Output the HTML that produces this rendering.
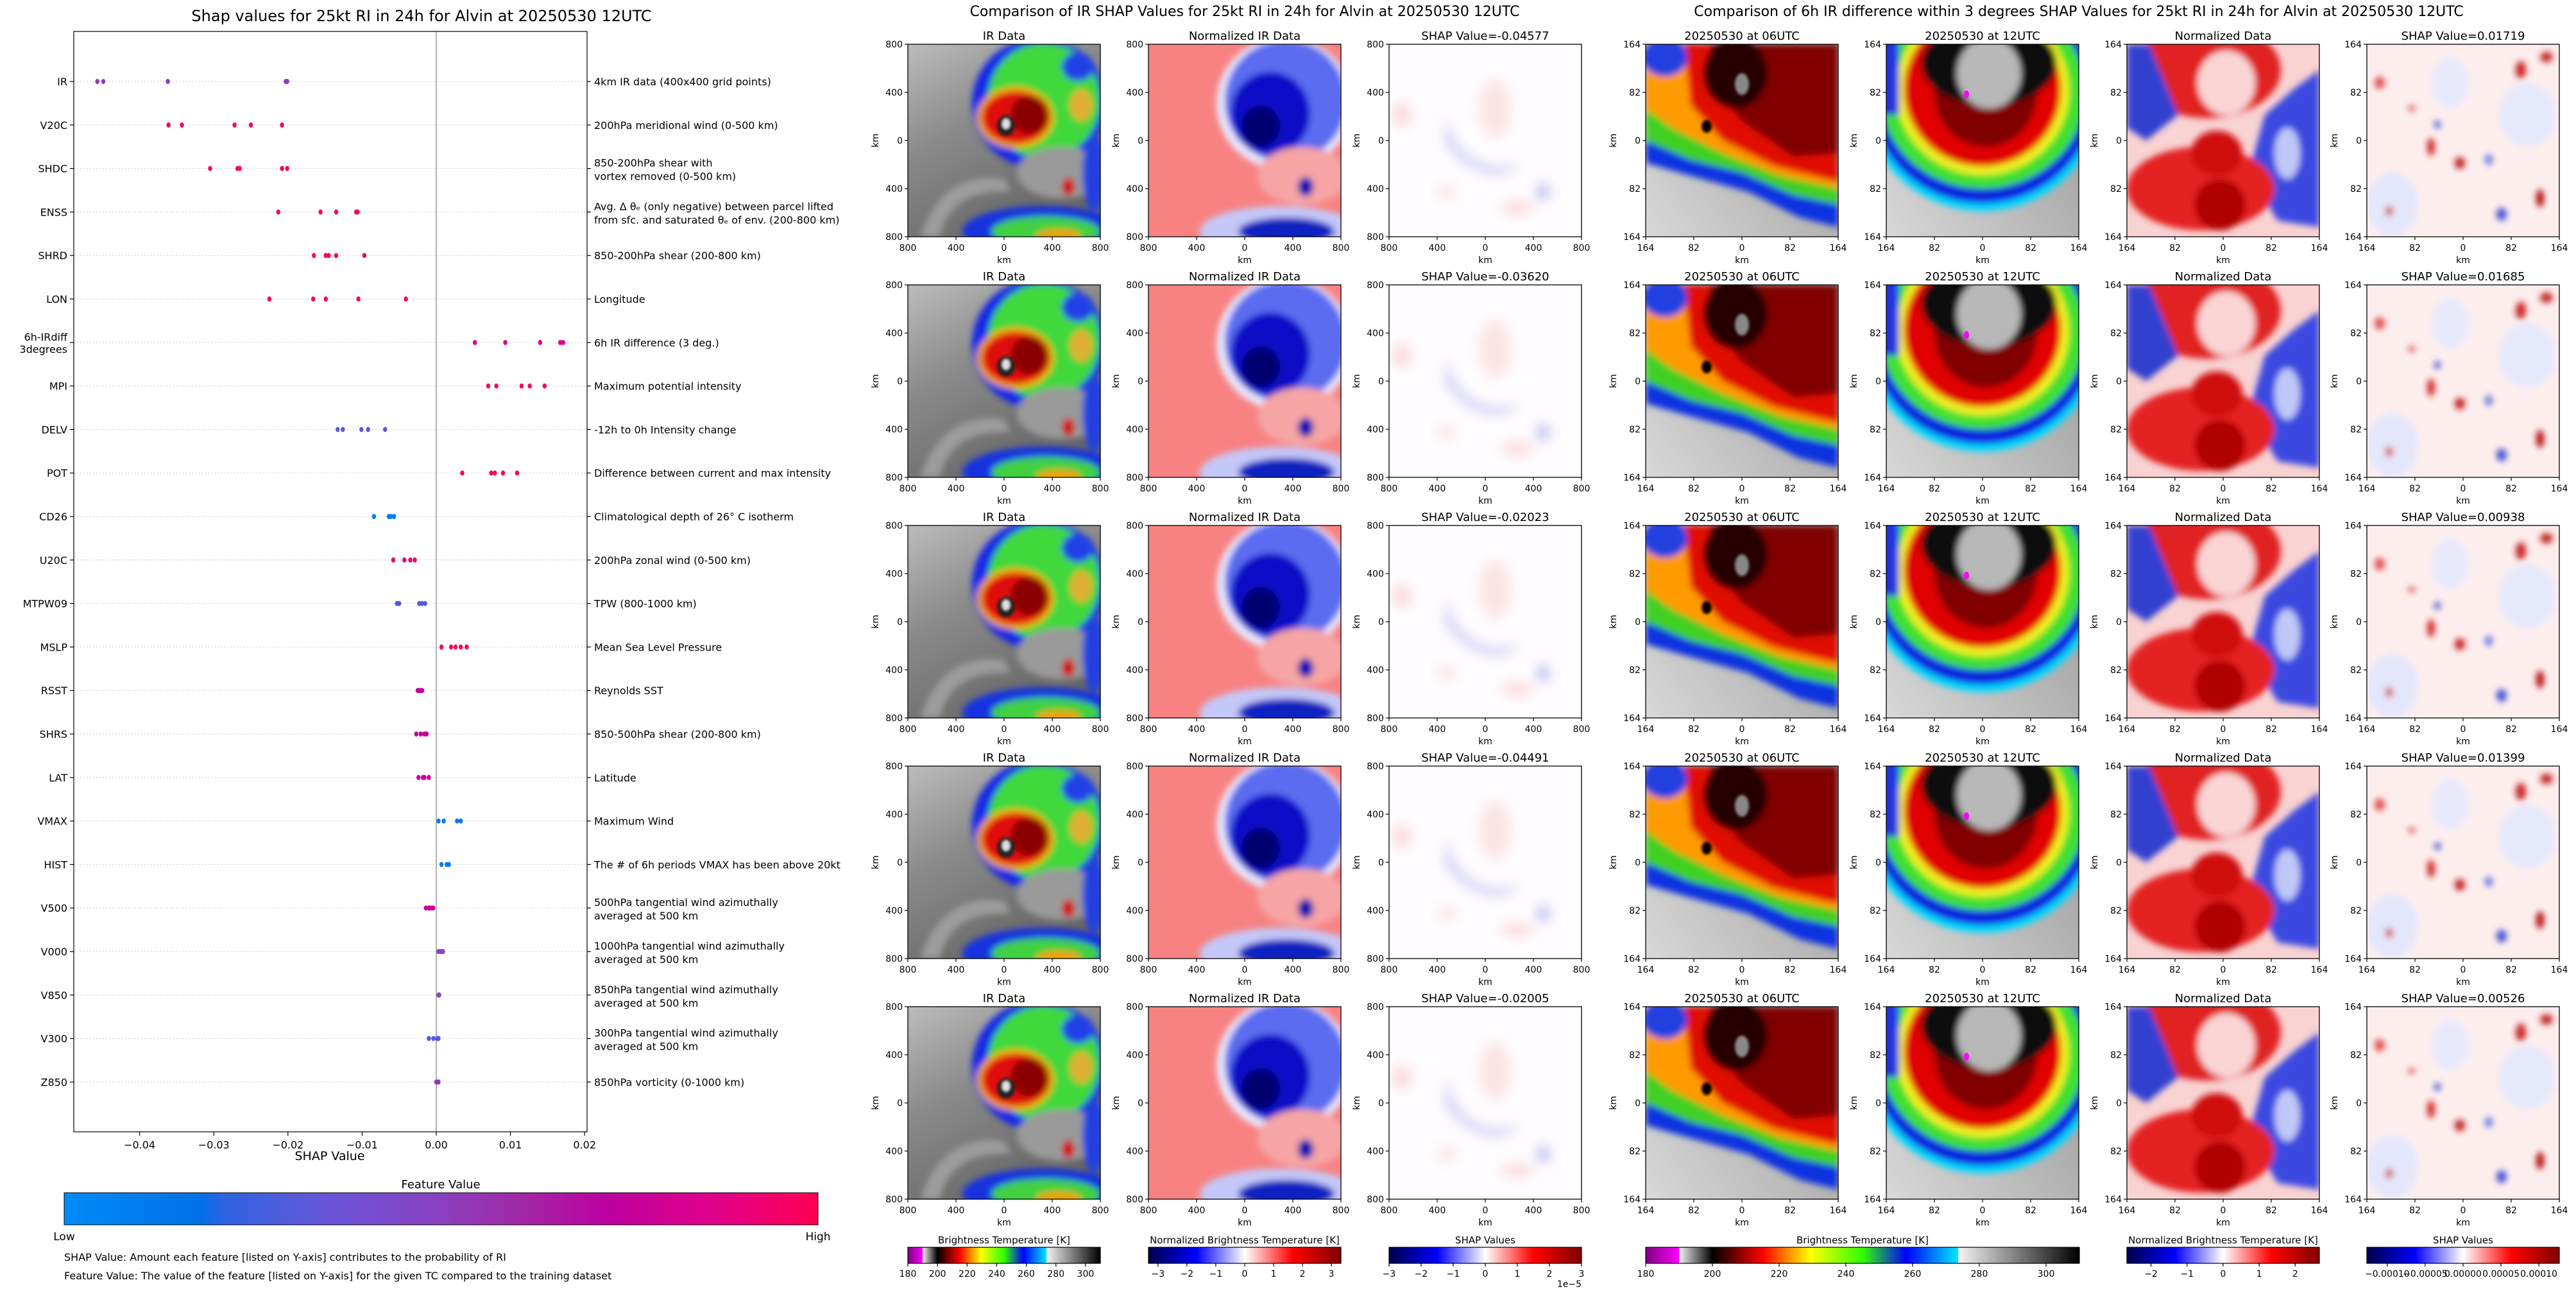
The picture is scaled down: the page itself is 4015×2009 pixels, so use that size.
<!DOCTYPE html>
<html><head><meta charset="utf-8">
<style>
html,body{margin:0;padding:0;background:#fff;}
svg{display:block;font-family:"DejaVu Sans","Liberation Sans",sans-serif;}
</style></head>
<body>
<svg id="fig" width="4015" height="2009" viewBox="0 0 4015 2009" xmlns="http://www.w3.org/2000/svg">
<defs>
  <filter id="b2" x="-20%" y="-20%" width="140%" height="140%"><feGaussianBlur stdDeviation="2"/></filter>
  <filter id="b5" x="-20%" y="-20%" width="140%" height="140%"><feGaussianBlur stdDeviation="5"/></filter>
  <filter id="b9" x="-30%" y="-30%" width="160%" height="160%"><feGaussianBlur stdDeviation="9"/></filter>
  <linearGradient id="gIrBg" x1="0" y1="0" x2="0.55" y2="1">
    <stop offset="0" stop-color="#bcbcbc"/><stop offset="0.45" stop-color="#8a8a8a"/><stop offset="1" stop-color="#666"/>
  </linearGradient>
  <linearGradient id="gGreyR" x1="0" y1="1" x2="1" y2="0.3">
    <stop offset="0" stop-color="#d8d8d8"/><stop offset="1" stop-color="#a0a0a0"/>
  </linearGradient>
  <linearGradient id="gFeat" x1="0" y1="0" x2="1" y2="0">
    <stop offset="0" stop-color="#008bfa"/><stop offset="0.18" stop-color="#0070e8"/><stop offset="0.21" stop-color="#2c64e2"/>
    <stop offset="0.35" stop-color="#6a55d8"/><stop offset="0.5" stop-color="#8a40c0"/><stop offset="0.6" stop-color="#a02aa8"/>
    <stop offset="0.72" stop-color="#bd00a0"/><stop offset="0.86" stop-color="#e0008a"/><stop offset="1" stop-color="#ff0052"/>
  </linearGradient>
  <linearGradient id="gBT" x1="0" y1="0" x2="1" y2="0">
    <stop offset="0" stop-color="#800080"/><stop offset="0.0769" stop-color="#ff00ff"/><stop offset="0.077" stop-color="#f4f4f4"/>
    <stop offset="0.1538" stop-color="#000"/><stop offset="0.27" stop-color="#ff0000"/><stop offset="0.33" stop-color="#ff9000"/>
    <stop offset="0.38" stop-color="#ffff00"/><stop offset="0.5" stop-color="#30ff00"/><stop offset="0.6" stop-color="#0000ff"/>
    <stop offset="0.72" stop-color="#00e8ff"/><stop offset="0.721" stop-color="#f4f4f4"/><stop offset="1" stop-color="#000"/>
  </linearGradient>
  <linearGradient id="gSeis" x1="0" y1="0" x2="1" y2="0">
    <stop offset="0" stop-color="#00004c"/><stop offset="0.25" stop-color="#0000ff"/><stop offset="0.5" stop-color="#ffffff"/>
    <stop offset="0.75" stop-color="#ff0000"/><stop offset="1" stop-color="#800000"/>
  </linearGradient>

  <symbol id="p-ir" viewBox="0 0 300 300">
    <rect width="300" height="300" fill="url(#gIrBg)"/>
    <g filter="url(#b5)">
      <path d="M20,300 C40,230 90,200 150,210 L160,230 C100,225 60,250 50,300Z" fill="#9c9c9c"/>
      <ellipse cx="205" cy="92" rx="105" ry="102" fill="#1428e8"/>
      <ellipse cx="212" cy="88" rx="88" ry="90" fill="#3fd83a"/>
      <ellipse cx="265" cy="35" rx="25" ry="22" fill="#2040e8"/>
      <ellipse cx="270" cy="95" rx="18" ry="25" fill="#e0b030"/>
      <ellipse cx="168" cy="114" rx="60" ry="48" fill="#f0b000"/>
      <ellipse cx="168" cy="114" rx="53" ry="41" fill="#e01010"/>
      <ellipse cx="190" cy="110" rx="30" ry="30" fill="#8a0000"/>
      <ellipse cx="240" cy="200" rx="70" ry="40" fill="#9a9a9a"/>
      <ellipse cx="290" cy="200" rx="18" ry="60" fill="#2040e0"/>
      <ellipse cx="210" cy="292" rx="125" ry="40" fill="#1830e0"/>
      <ellipse cx="215" cy="292" rx="85" ry="24" fill="#40d040"/>
      <ellipse cx="235" cy="298" rx="35" ry="10" fill="#f0a000"/>
      <ellipse cx="250" cy="222" rx="10" ry="14" fill="#d00000"/>
    </g>
    <ellipse cx="153" cy="127" rx="14" ry="16" fill="#202020" filter="url(#b2)"/>
    <ellipse cx="153" cy="124" rx="7" ry="9" fill="#e0e0e0" filter="url(#b2)"/>
  </symbol>

  <symbol id="p-norm" viewBox="0 0 300 300">
    <rect width="300" height="300" fill="#f88282"/>
    <g filter="url(#b5)">
      <ellipse cx="212" cy="92" rx="106" ry="104" fill="#e8e8ff"/>
      <ellipse cx="214" cy="88" rx="95" ry="95" fill="#5c6cf0"/>
      <ellipse cx="190" cy="108" rx="62" ry="65" fill="#0a10c8"/>
      <ellipse cx="175" cy="128" rx="30" ry="32" fill="#000070"/>
      <ellipse cx="240" cy="205" rx="70" ry="45" fill="#f6a4a4"/>
      <ellipse cx="245" cy="222" rx="12" ry="15" fill="#0010b0"/>
      <ellipse cx="205" cy="292" rx="125" ry="40" fill="#c4c8f8"/>
      <ellipse cx="215" cy="292" rx="75" ry="22" fill="#1020c0"/>
    </g>
  </symbol>

  <symbol id="p-shap" viewBox="0 0 300 300">
    <rect width="300" height="300" fill="#fefcfe"/>
    <g filter="url(#b9)">
      <path d="M90,110 C100,180 160,200 200,185 C190,215 120,210 85,150Z" fill="#d4d4f6"/>
      <ellipse cx="165" cy="100" rx="25" ry="45" fill="#fbe4e4"/>
      <ellipse cx="20" cy="110" rx="15" ry="18" fill="#fadada"/>
      <ellipse cx="240" cy="230" rx="10" ry="14" fill="#c0c0f0"/>
      <ellipse cx="200" cy="255" rx="25" ry="10" fill="#fadada"/>
      <ellipse cx="90" cy="230" rx="15" ry="12" fill="#fbe8e8"/>
    </g>
  </symbol>

  <symbol id="p-r06" viewBox="0 0 300 300">
    <rect width="300" height="300" fill="url(#gGreyR)"/>
    <g filter="url(#b5)">
      <path d="M0,0 L300,0 L300,285 L240,270 L160,230 L70,205 L0,185Z" fill="#1030e0"/>
      <path d="M0,0 L300,0 L300,250 L230,235 L150,200 L70,180 L0,150Z" fill="#40d020"/>
      <path d="M0,0 L300,0 L300,225 L210,205 L120,170 L40,130 L0,100Z" fill="#ff9a00"/>
      <path d="M60,0 L300,0 L300,215 L200,190 L120,150 L70,95Z" fill="#e01000"/>
      <path d="M100,0 L300,0 L300,170 L230,175 L150,120 L100,60Z" fill="#800000"/>
      <ellipse cx="140" cy="45" rx="50" ry="55" fill="#280000"/>
      <ellipse cx="30" cy="20" rx="35" ry="30" fill="#2040e0"/>
    </g>
    <ellipse cx="150" cy="62" rx="11" ry="17" fill="#888" filter="url(#b2)"/>
    <ellipse cx="95" cy="128" rx="8" ry="10" fill="#100000" filter="url(#b2)"/>
  </symbol>

  <symbol id="p-r12" viewBox="0 0 300 300">
    <rect width="300" height="300" fill="url(#gGreyR)"/>
    <g filter="url(#b5)">
      <ellipse cx="150" cy="80" rx="185" ry="180" fill="#00d8ff"/>
      <ellipse cx="150" cy="80" rx="175" ry="168" fill="#1020e0"/>
      <ellipse cx="150" cy="75" rx="160" ry="150" fill="#40e030"/>
      <ellipse cx="150" cy="72" rx="135" ry="132" fill="#f0f020"/>
      <ellipse cx="150" cy="70" rx="122" ry="120" fill="#e00000"/>
      <ellipse cx="155" cy="75" rx="80" ry="85" fill="#800000"/>
      <ellipse cx="160" cy="30" rx="105" ry="65" fill="#101010"/>
      <ellipse cx="160" cy="45" rx="50" ry="55" fill="#b8b8b8"/>
      <rect x="-10" y="-10" width="30" height="120" fill="#2030e0"/>
    </g>
    <ellipse cx="125" cy="78" rx="4" ry="6" fill="#ff00ff"/>
  </symbol>

  <symbol id="p-rn" viewBox="0 0 300 300">
    <rect width="300" height="300" fill="#f9d2d2"/>
    <g filter="url(#b5)">
      <ellipse cx="125" cy="40" rx="115" ry="75" fill="#e02020"/>
      <ellipse cx="155" cy="60" rx="45" ry="50" fill="#fbd4d4"/>
      <path d="M0,0 L35,0 L80,110 L30,150 L0,130Z" fill="#3040d0"/>
      <path d="M300,40 L300,285 L235,275 L190,200 L215,110 L260,70Z" fill="#3a48e0"/>
      <ellipse cx="250" cy="170" rx="20" ry="40" fill="#c0c8f8"/>
      <ellipse cx="115" cy="225" rx="115" ry="65" fill="#e42424"/>
      <ellipse cx="140" cy="170" rx="40" ry="35" fill="#d01010"/>
      <ellipse cx="145" cy="250" rx="40" ry="40" fill="#b00000"/>
    </g>
  </symbol>

  <symbol id="p-rs" viewBox="0 0 300 300">
    <rect width="300" height="300" fill="#fdeeee"/>
    <g filter="url(#b5)">
      <ellipse cx="40" cy="250" rx="40" ry="50" fill="#e4e6fb"/>
      <ellipse cx="130" cy="60" rx="30" ry="40" fill="#e8eafc"/>
      <ellipse cx="250" cy="110" rx="45" ry="50" fill="#e6e8fb"/>
      <ellipse cx="20" cy="60" rx="8" ry="10" fill="#e05050"/>
      <ellipse cx="240" cy="40" rx="8" ry="14" fill="#c82020"/>
      <ellipse cx="280" cy="20" rx="10" ry="8" fill="#c02020"/>
      <ellipse cx="100" cy="160" rx="6" ry="14" fill="#d02020"/>
      <ellipse cx="145" cy="185" rx="8" ry="9" fill="#c01818"/>
      <ellipse cx="270" cy="240" rx="6" ry="14" fill="#b00000"/>
      <ellipse cx="210" cy="265" rx="8" ry="10" fill="#4050d0"/>
      <ellipse cx="110" cy="125" rx="5" ry="6" fill="#4050d0"/>
      <ellipse cx="70" cy="100" rx="6" ry="5" fill="#e06060"/>
      <ellipse cx="35" cy="260" rx="6" ry="8" fill="#d04040"/>
      <ellipse cx="190" cy="180" rx="6" ry="8" fill="#6070e0"/>
    </g>
  </symbol>
</defs>
<g id="left-panel"></g>
<g id="mid-panel"></g>
<g id="right-panel"></g>
</svg>
<script>
// ---------- data ----------
const features = ['IR','V20C','SHDC','ENSS','SHRD','LON','6h-IRdiff|3degrees','MPI','DELV','POT','CD26','U20C','MTPW09','MSLP','RSST','SHRS','LAT','VMAX','HIST','V500','V000','V850','V300','Z850'];
const descriptions = [
 ['4km IR data (400x400 grid points)'],
 ['200hPa meridional wind (0-500 km)'],
 ['850-200hPa shear with','vortex removed (0-500 km)'],
 ['Avg. \u0394 \u03b8\u2091 (only negative) between parcel lifted','from sfc. and saturated \u03b8\u2091 of env. (200-800 km)'],
 ['850-200hPa shear (200-800 km)'],
 ['Longitude'],
 ['6h IR difference (3 deg.)'],
 ['Maximum potential intensity'],
 ['-12h to 0h Intensity change'],
 ['Difference between current and max intensity'],
 ['Climatological depth of 26\u00b0 C isotherm'],
 ['200hPa zonal wind (0-500 km)'],
 ['TPW (800-1000 km)'],
 ['Mean Sea Level Pressure'],
 ['Reynolds SST'],
 ['850-500hPa shear (200-800 km)'],
 ['Latitude'],
 ['Maximum Wind'],
 ['The # of 6h periods VMAX has been above 20kt'],
 ['500hPa tangential wind azimuthally','averaged at 500 km'],
 ['1000hPa tangential wind azimuthally','averaged at 500 km'],
 ['850hPa tangential wind azimuthally','averaged at 500 km'],
 ['300hPa tangential wind azimuthally','averaged at 500 km'],
 ['850hPa vorticity (0-1000 km)']
];
const shapVals = [
 [-0.0457,-0.0449,-0.0362,-0.0203,-0.0201],
 [-0.0361,-0.0343,-0.0272,-0.0250,-0.0208],
 [-0.0305,-0.0268,-0.0265,-0.0208,-0.0201],
 [-0.0213,-0.0156,-0.0135,-0.0108,-0.0106],
 [-0.0165,-0.0149,-0.0145,-0.0135,-0.0097],
 [-0.0225,-0.0166,-0.0149,-0.0105,-0.0041],
 [0.0052,0.0093,0.0140,0.0167,0.0171],
 [0.0070,0.0081,0.0115,0.0126,0.0146],
 [-0.0133,-0.0126,-0.0101,-0.0092,-0.0069],
 [0.0035,0.0074,0.0079,0.0090,0.0109],
 [-0.0084,-0.0064,-0.0061,-0.0057],
 [-0.0058,-0.0043,-0.0035,-0.0029],
 [-0.0053,-0.0050,-0.0023,-0.0019,-0.0015],
 [0.0007,0.0020,0.0026,0.0033,0.0041],
 [-0.0025,-0.0023,-0.0021,-0.0019],
 [-0.0027,-0.0021,-0.0016,-0.0013],
 [-0.0024,-0.0018,-0.0016,-0.0010],
 [0.0003,0.0010,0.0028,0.0033],
 [0.0007,0.0014,0.0017],
 [-0.0014,-0.0010,-0.0007,-0.0004],
 [0.0003,0.0006,0.0009],
 [0.0003,0.0004],
 [-0.0010,-0.0004,0.0001,0.0003],
 [0.0000,0.0003]
];
const featureValues = [0.52,0.97,0.97,0.97,0.97,0.97,0.86,0.97,0.32,0.97,0.1,0.92,0.3,0.97,0.76,0.76,0.78,0.1,0.1,0.76,0.5,0.45,0.3,0.55];
const xTicks = [-0.04,-0.03,-0.02,-0.01,0.00,0.01,0.02];
const xTickLabels = ['\u22120.04','\u22120.03','\u22120.02','\u22120.01','0.00','0.01','0.02'];
const midShapTitles = ['SHAP Value=-0.04577','SHAP Value=-0.03620','SHAP Value=-0.02023','SHAP Value=-0.04491','SHAP Value=-0.02005'];
const rightShapTitles = ['SHAP Value=0.01719','SHAP Value=0.01685','SHAP Value=0.00938','SHAP Value=0.01399','SHAP Value=0.00526'];
const midTickLabels = ['800','400','0','400','800'];
const rightTickLabels = ['164','82','0','82','164'];
const btTicks = [180,200,220,240,260,280,300];
const midNormTicks = [-3,-2,-1,0,1,2,3];
const midShapTicks = [-3,-2,-1,0,1,2,3];
const rightNormTicks = [-2,-1,0,1,2];
const rightShapTicks = [-0.0001,-0.00005,0,0.00005,0.0001];
const rightShapTickLabels = ['\u22120.00010','\u22120.00005','0.00000','0.00005','0.00010'];

// ---------- helpers ----------
const NS = 'http://www.w3.org/2000/svg';
function mk(parent, tag, attrs, text) {
  const e = document.createElementNS(NS, tag);
  for (const k in attrs) e.setAttribute(k, attrs[k]);
  if (text !== undefined) e.textContent = text;
  parent.appendChild(e);
  return e;
}
function fmtMinus(v){ return (v<0?'\u2212':'') + Math.abs(v); }
const cmapStops = [[0,[0,139,250]],[0.18,[0,112,232]],[0.21,[44,100,226]],[0.35,[106,85,216]],[0.5,[138,64,192]],[0.6,[160,42,168]],[0.72,[189,0,160]],[0.86,[224,0,138]],[1,[255,0,82]]];
function cmap(t){
  for (let i=1;i<cmapStops.length;i++){
    if (t<=cmapStops[i][0]){
      const a=cmapStops[i-1], b=cmapStops[i], f=(t-a[0])/(b[0]-a[0]);
      const c=a[1].map((v,j)=>Math.round(v+(b[1][j]-v)*f));
      return 'rgb('+c.join(',')+')';
    }
  }
  return 'rgb(255,0,82)';
}

// ---------- left SHAP summary ----------
const L = document.getElementById('left-panel');
const AX = {l:115, r:915, t:49, b:1764};
const xS = v => 680 + v*11560;
const yS = i => 127 + i*67.8;

const ltitle = mk(L,'text',{x:657,y:33,'font-size':24,'text-anchor':'middle'},'Shap values for 25kt RI in 24h for Alvin at 20250530 12UTC');



features.forEach((f,i)=>{
  const y = yS(i);
  const grid = mk(L,'line',{x1:AX.l,x2:AX.r,y1:y,y2:y,stroke:'#ccc','stroke-width':1,'stroke-dasharray':'2,3'});
  
  
  mk(L,'line',{x1:AX.l-6,x2:AX.l,y1:y,y2:y,stroke:'#000','stroke-width':1.2});
  mk(L,'line',{x1:AX.r,x2:AX.r+6,y1:y,y2:y,stroke:'#000','stroke-width':1.2});
  const parts = f.split('|');
  parts.forEach((p,k)=>{
    const off = parts.length===1 ? 6 : (k===0 ? -3 : 16);
    const t = mk(L,'text',{x:AX.l-10,y:y+off,'font-size':16,'text-anchor':'end'},p);
    
    
  });
  const d = descriptions[i];
  d.forEach((p,k)=>{
    const off = d.length===1 ? 6 : (k===0 ? -3 : 18);
    const t = mk(L,'text',{x:AX.r+11,y:y+off,'font-size':16},p);
    
    
  });
});

const zl = mk(L,'line',{x1:xS(0),x2:xS(0),y1:AX.t,y2:AX.b,stroke:'#999','stroke-width':1.5});



shapVals.forEach((vals,i)=>{
  vals.forEach(v=>{
    const c = mk(L,'ellipse',{cx:xS(v),cy:yS(i),rx:3.2,ry:4,fill:cmap(featureValues[i])});
    
    
  });
});

const frame = mk(L,'rect',{x:AX.l,y:AX.t,width:AX.r-AX.l,height:AX.b-AX.t,fill:'none',stroke:'#000','stroke-width':1.2});



xTicks.forEach((v,k)=>{
  const x = xS(v);
  mk(L,'line',{x1:x,x2:x,y1:AX.b,y2:AX.b+6,stroke:'#000','stroke-width':1.2});
  const t = mk(L,'text',{x:x,y:AX.b+26,'font-size':16,'text-anchor':'middle'},xTickLabels[k]);
  
  
});
const xl = mk(L,'text',{x:514,y:1808,'font-size':19,'text-anchor':'middle'},'SHAP Value');



const ft = mk(L,'text',{x:687,y:1852,'font-size':18,'text-anchor':'middle'},'Feature Value');


const fcb = mk(L,'rect',{x:100,y:1859,width:1175,height:50,fill:'url(#gFeat)',stroke:'#000','stroke-width':1});


const lo = mk(L,'text',{x:100,y:1933,'font-size':17,'text-anchor':'middle'},'Low');


const hi = mk(L,'text',{x:1275,y:1933,'font-size':17,'text-anchor':'middle'},'High');


const n1 = mk(L,'text',{x:100,y:1965,'font-size':16},'SHAP Value: Amount each feature [listed on Y-axis] contributes to the probability of RI');


const n2 = mk(L,'text',{x:100,y:1994,'font-size':16},'Feature Value: The value of the feature [listed on Y-axis] for the given TC compared to the training dataset');



// ---------- image panels ----------
const rowTops = [69,444,819,1194,1569];
function panel(parent, x, y, sym, title, ticks, name){
  const g = mk(parent,'g',{});
  
  
  mk(g,'use',{href:'#'+sym,x:x,y:y,width:300,height:300});
  mk(g,'rect',{x:x,y:y,width:300,height:300,fill:'none',stroke:'#000','stroke-width':1.3});
  const tt = mk(g,'text',{x:x+150,y:y-7,'font-size':18,'text-anchor':'middle'},title);
  
  
  ticks.forEach((lab,k)=>{
    const p = k*75;
    mk(g,'line',{x1:x+p,x2:x+p,y1:y+300,y2:y+305,stroke:'#000','stroke-width':1.2});
    mk(g,'text',{x:x+p,y:y+322,'font-size':14,'text-anchor':'middle'},lab);
    mk(g,'line',{x1:x-5,x2:x,y1:y+p,y2:y+p,stroke:'#000','stroke-width':1.2});
    mk(g,'text',{x:x-8,y:y+p+5,'font-size':14,'text-anchor':'end'},lab);
  });
  mk(g,'text',{x:x+150,y:y+341,'font-size':14,'text-anchor':'middle'},'km');
  mk(g,'text',{x:0,y:0,'font-size':14,'text-anchor':'middle',transform:'translate('+(x-46)+','+(y+150)+') rotate(-90)'},'km');
}
const M = document.getElementById('mid-panel');
const mt = mk(M,'text',{x:1940,y:25,'font-size':22,'text-anchor':'middle'},'Comparison of IR SHAP Values for 25kt RI in 24h for Alvin at 20250530 12UTC');


rowTops.forEach((y,r)=>{
  panel(M,1415,y,'p-ir','IR Data',midTickLabels,'ir-data-panel');
  panel(M,1790,y,'p-norm','Normalized IR Data',midTickLabels,'normalized-ir-panel');
  panel(M,2165,y,'p-shap',midShapTitles[r],midTickLabels,'ir-shap-panel');
});
const R = document.getElementById('right-panel');
const rt = mk(R,'text',{x:3240,y:25,'font-size':22,'text-anchor':'middle'},'Comparison of 6h IR difference within 3 degrees SHAP Values for 25kt RI in 24h for Alvin at 20250530 12UTC');


rowTops.forEach((y,r)=>{
  panel(R,2565,y,'p-r06','20250530 at 06UTC',rightTickLabels,'ir-06utc-panel');
  panel(R,2940,y,'p-r12','20250530 at 12UTC',rightTickLabels,'ir-12utc-panel');
  panel(R,3315,y,'p-rn','Normalized Data',rightTickLabels,'normalized-diff-panel');
  panel(R,3689,y,'p-rs',rightShapTitles[r],rightTickLabels,'diff-shap-panel');
});

// ---------- colorbars ----------
function colorbar(parent,x,w,fill,title,ticks,labels,vmin,vmax,name){
  const g = mk(parent,'g',{});
  
  
  mk(g,'text',{x:x+w/2,y:1938,'font-size':15,'text-anchor':'middle'},title);
  mk(g,'rect',{x:x,y:1944,width:w,height:25,fill:fill,stroke:'#000','stroke-width':1.2});
  ticks.forEach((v,k)=>{
    const px = x + (v-vmin)/(vmax-vmin)*w;
    mk(g,'line',{x1:px,x2:px,y1:1969,y2:1974,stroke:'#000','stroke-width':1.2});
    mk(g,'text',{x:px,y:1990,'font-size':14,'text-anchor':'middle'},labels[k]);
  });
}
colorbar(M,1415,300,'url(#gBT)','Brightness Temperature [K]',btTicks,btTicks.map(String),180,310,'bt-colorbar');
colorbar(M,1790,300,'url(#gSeis)','Normalized Brightness Temperature [K]',midNormTicks,midNormTicks.map(fmtMinus),-3.33,3.33,'norm-colorbar');
colorbar(M,2165,300,'url(#gSeis)','SHAP Values',midShapTicks,midShapTicks.map(fmtMinus),-3,3,'shap-colorbar');
const ex = mk(M,'text',{x:2465,y:2006,'font-size':14,'text-anchor':'end'},'1e\u22125');


colorbar(R,2565,676,'url(#gBT)','Brightness Temperature [K]',btTicks,btTicks.map(String),180,310,'diff-bt-colorbar');
colorbar(R,3315,300,'url(#gSeis)','Normalized Brightness Temperature [K]',rightNormTicks,rightNormTicks.map(fmtMinus),-2.67,2.67,'diff-norm-colorbar');
colorbar(R,3689,300,'url(#gSeis)','SHAP Values',rightShapTicks,rightShapTickLabels,-0.000127,0.000127,'diff-shap-colorbar');
</script>
</body></html>
